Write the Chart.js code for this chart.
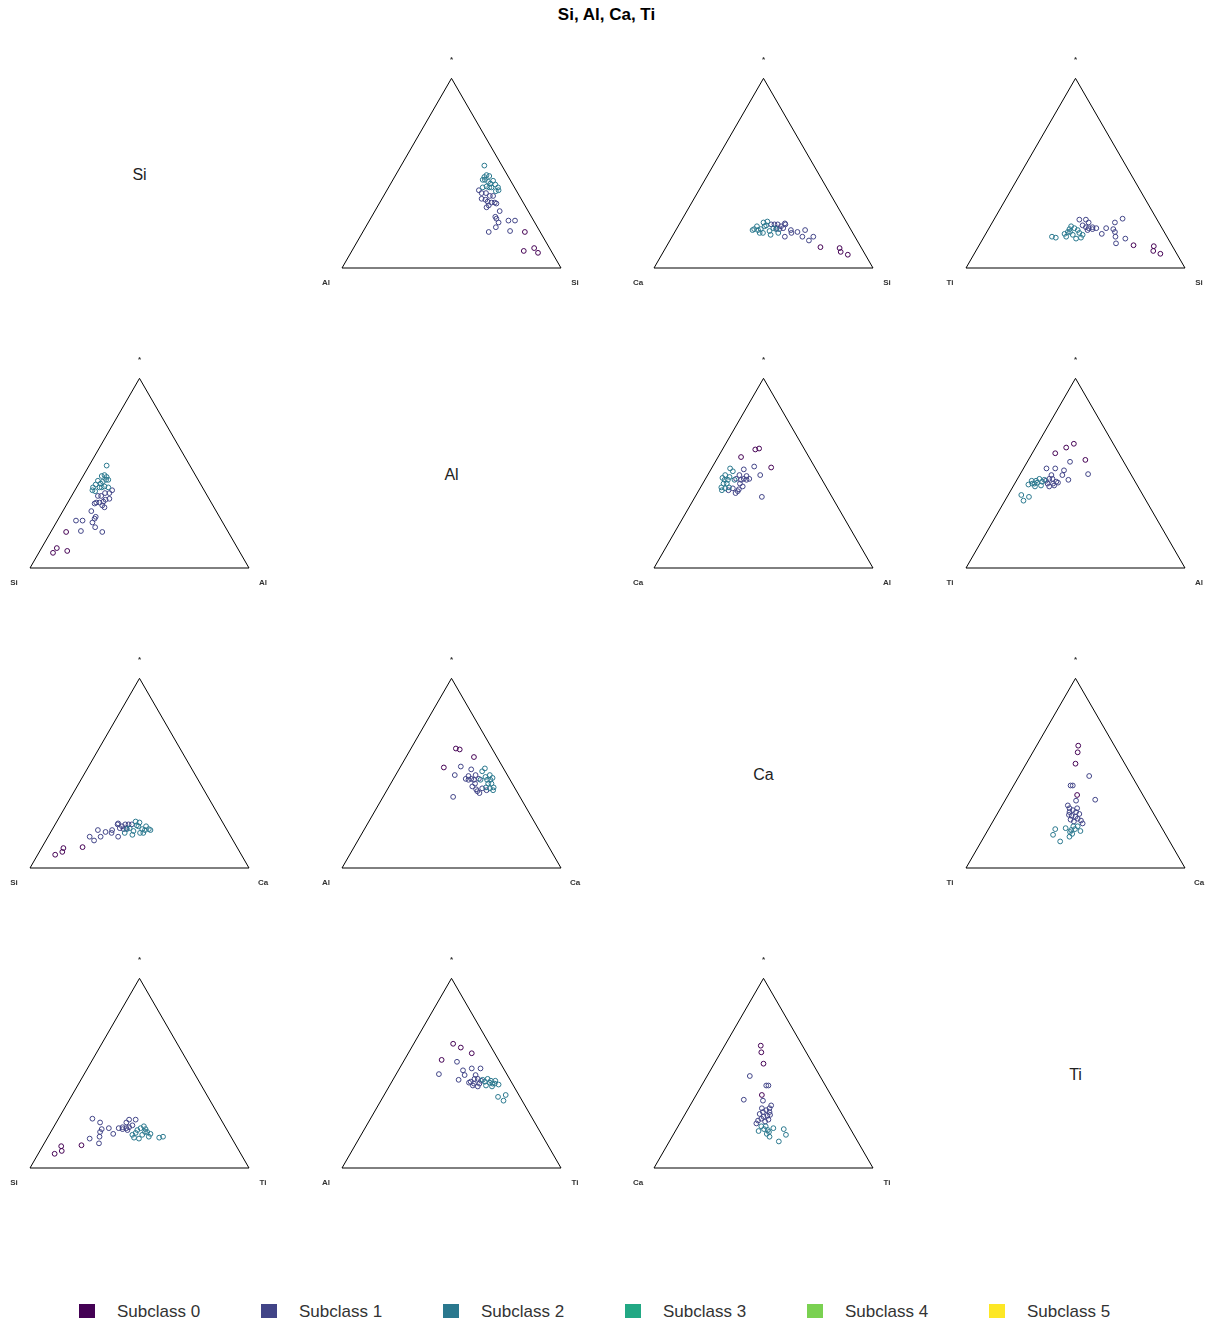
<!DOCTYPE html>
<html>
<head>
<meta charset="utf-8">
<script src="https://cdn.jsdelivr.net/npm/chart.js@4.4.1/dist/chart.umd.min.js"></script>
<style>
  html, body { margin: 0; padding: 0; background: #fff; overflow: hidden; }
  body { width: 1213px; height: 1327px; position: relative; font-family: "Liberation Sans", Arial, sans-serif; }
  #title { position: absolute; top: 5px; left: 0; width: 1213px; text-align: center; font-weight: bold; font-size: 17px; color: #000; }
  canvas.cell { position: absolute; }
  .diag { position: absolute; font-size: 16px; color: #222; transform: translate(-50%, -50%); }
  .lg-box { position: absolute; width: 16px; height: 14px; top: 1304px; }
  .lg-text { position: absolute; top: 1302px; font-size: 17px; color: #333; }
</style>
</head>
<body>
<div id="title">Si, Al, Ca, Ti</div>
<script>
{
    const elements = ['Si', 'Al', 'Ca', 'Ti'];
    const subclasses = ['Subclass 0', 'Subclass 1', 'Subclass 2', 'Subclass 3', 'Subclass 4', 'Subclass 5'];
    const subclassColors = ['#440154', '#414487', '#2A788E', '#22A884', '#7AD151', '#FDE725'];

    // [first %, second %, subclass] - the rest (*) is 100 - first - second
    const siAl = [
        [38,8,2],[41,11,2],[41.5,9.5,2],[43,8.5,2],[41,12.5,2],[42,11.5,2],[44,10.5,2],[45.5,10,2],[46,8,2],
        [48,8,2],[50,7.5,2],[50,9.5,2],[51,8,2],[44.5,12.5,2],[46,11.5,2],[47,10.5,2],[43,14.5,2],
        [42,17,1],[44,16.5,1],[46,14.5,1],[48.5,13.5,1],[50,12,1],[45.5,18,1],[47.5,16.5,1],[49,16,1],
        [51,14.5,1],[52.5,13,1],[50,18,1],[50.5,16.5,1],[53.5,12.5,1],[57,13,1],[56.5,16.5,1],[57.5,16.5,1],
        [59.5,16.5,1],[63.5,11.5,1],[66.5,8.5,1],[59.5,19,1],[57.5,23.5,1],[67,13.5,1],
        [74,7,0],[78.5,12.5,0],[82.5,7,0],[85.5,6.5,0]
    ];
    const siCa = [
        [35.5,44,2],[37.5,42.5,2],[38.5,41,2],[39.5,38.5,2],[39.5,36,2],[40,37.5,2],[39,42.5,2],[40.5,41,2],
        [43,37.5,2],[44.5,38,2],[44,35,2],[45.5,34,2],[47.5,34,2],[35,45,2],[38,38,2],[36,42,2],
        [42,35,1],[43.5,33.5,1],[45,32,1],[47,31,1],[48,28.5,1],[45.5,33.5,1],[47,32.5,1],[48.5,30.5,1],
        [48.5,28.5,1],[52.5,27.5,1],[56,25,1],[59,21,1],[53.5,28,1],[51.5,32,1],[59.5,24,1],[63.5,22,1],[64.5,19,1],
        [70.5,18.5,0],[79.5,10,0],[81,10.5,0],[85,8,0]
    ];
    const siTi = [
        [31,52.5,2],[33,51,2],[36,46,2],[37,44,2],[37,42.5,2],[37,41,2],[39,40,2],[41,39,2],[42.5,39,2],
        [40,42.5,2],[42.5,42,2],[44.5,39.5,2],[44.5,38,2],[37.5,46,2],[38,43,2],
        [39,35.5,1],[42,32.5,1],[42,35.5,1],[44,34.5,1],[45.5,33.5,1],[47,31.5,1],[44,32,1],[47.5,32,1],
        [45.5,34.5,1],[49,30,1],[53,29,1],[53.5,25.5,1],[57,22.5,1],[58.5,22.5,1],[60,23.5,1],[62,25,1],
        [65,19.5,1],[58.5,15.5,1],[56,20,1],
        [70.5,17.5,0],[80,8.5,0],[81,10,0],[85,7.5,0]
    ];
    const alCa = [
        [7.5,45,2],[8,43,2],[10.5,48.5,2],[9.5,48,2],[9,44.5,2],[10.5,43,2],[11,44.5,2],[8.5,39,2],
        [10.5,38.5,2],[10.5,41.5,2],[13,44.5,2],[9.5,46,2],[13.5,40,2],[11.5,46.5,2],
        [14,39,1],[14.5,36.5,1],[16.5,37,1],[17,38.5,1],[17.5,35.5,1],[19,34.5,1],[20,33,1],[18,33.5,1],
        [15,33,1],[19,27.5,1],[24,27,1],[18,41.5,1],[17.5,43,1],[18,40.5,1],[13.5,45.5,1],[15,43,1],
        [30.5,32,1],[19,38,1],
        [10.5,31,0],[15,22.5,0],[16.5,20.5,0],[27,20,0]
    ];
    const alTi = [
        [6,55.5,2],[8.5,56,2],[10,52.5,2],[6.5,49.5,2],[7,47,2],[9,46.5,2],[9,45,2],[10,47,2],[10,43,2],
        [12,42.5,2],[12.5,41,2],[12.5,44,2],[8,47.5,2],[10,45,2],
        [10.5,37,1],[14.5,33,1],[13.5,40.5,1],[15,40.5,1],[14.5,38.5,1],[14.5,36.5,1],[16,37,1],[18.5,38,1],
        [18.5,36,1],[17.5,38,1],[16.5,40.5,1],[19.5,31.5,1],[19,29.5,1],[23.5,30,1],[19.5,24.5,1],[31,19.5,1],
        [19.5,35.5,1],
        [10.5,29,0],[14,22.5,0],[16.5,18,0],[26,17,0]
    ];
    const caTi = [
        [19,16.5,0],[20.5,18.5,0],[22.5,22.5,0],[31.5,30,0],
        [32,19.5,1],[26,30.5,1],[27,29.5,1],[41,23,1],[32.5,32,1],[30,37,1],[31.5,37,1],[33.5,36,1],
        [35.5,35,1],[37.5,34,1],[33,39,1],[34.5,38,1],[36.5,36.5,1],[38,36,1],[40,35,1],[41.5,35,1],
        [37,38.5,1],[35,39.5,1],[35,33.5,1],[32.5,38,1],
        [30.5,49,2],[31,51.5,2],[36,50,2],[35,44,2],[38,43,2],[38,42,2],[38,40,2],[40,38,2],
        [42.5,38,2],[39,44.5,2],[39.5,42.5,2],[39.5,40,2]
    ];
    const PAIRS = { 'Si-Al': siAl, 'Si-Ca': siCa, 'Si-Ti': siTi, 'Al-Ca': alCa, 'Al-Ti': alTi, 'Ca-Ti': caTi };

    const SQ = Math.sqrt(3) / 2;
    const CELL_W = 312, CELL_H = 300, CANVAS_W = 276, TOP = 40;
    const SIDE = 219;          // px per triangle side
    const LEFT_PAD = 30, BASE = 228;

    // right vertex = row element, left vertex = column element, top = rest
    const cellPoints = (rowEl, colEl) => {
        let data = PAIRS[rowEl + '-' + colEl], swap = false;
        if (!data) { data = PAIRS[colEl + '-' + rowEl]; swap = true; }
        return data.map(([a, b, k]) => {
            const right = swap ? b : a, left = swap ? a : b, top = 100 - right - left;
            return { x: (right + top / 2) / 100, y: top * SQ / 100, k };
        });
    };

    const cornerLabels = {
        id: 'cornerLabels',
        afterDatasetsDraw(chart, args, opts) {
            const { ctx, scales: { x, y } } = chart;
            ctx.save();
            ctx.fillStyle = '#333';
            ctx.font = 'bold 8px "Liberation Sans", Arial, sans-serif';
            ctx.textAlign = 'center';
            ctx.textBaseline = 'middle';
            ctx.fillText(opts.left, x.getPixelForValue(0) - 16, y.getPixelForValue(0) + 15);
            ctx.fillText(opts.right, x.getPixelForValue(1) + 14, y.getPixelForValue(0) + 15);
            ctx.fillText('*', x.getPixelForValue(0.5), y.getPixelForValue(SQ) - 19);
            ctx.restore();
        }
    };

    elements.forEach((rowEl, r) => {
        elements.forEach((colEl, c) => {
            if (r === c) {
                const d = document.createElement('div');
                d.className = 'diag';
                d.textContent = rowEl;
                d.style.left = (LEFT_PAD + SIDE / 2 + CELL_W * c) + 'px';
                d.style.top = (TOP + 135 + CELL_H * r) + 'px';
                document.body.appendChild(d);
                return;
            }
            const canvas = document.createElement('canvas');
            canvas.className = 'cell';
            canvas.width = CANVAS_W;
            canvas.height = CELL_H;
            canvas.style.left = (CELL_W * c) + 'px';
            canvas.style.top = (TOP + CELL_H * r) + 'px';
            document.body.appendChild(canvas);

            const pts = cellPoints(rowEl, colEl);
            const datasets = [{
                data: [{ x: 0, y: 0 }, { x: 1, y: 0 }, { x: 0.5, y: SQ }, { x: 0, y: 0 }],
                showLine: true, borderColor: '#000', borderWidth: 1, pointRadius: 0, fill: false
            }];
            [2, 1, 0].forEach(k => {
                const data = pts.filter(p => p.k === k);
                if (!data.length) return;
                datasets.push({
                    label: subclasses[k], data,
                    pointRadius: 2.4, pointBorderWidth: 1,
                    borderColor: subclassColors[k], backgroundColor: 'rgba(0,0,0,0)'
                });
            });

            new Chart(canvas, {
                type: 'scatter',
                data: { datasets },
                options: {
                    responsive: false, animation: false, events: [],
                    layout: { padding: 0, autoPadding: false },
                    plugins: {
                        legend: { display: false }, tooltip: { enabled: false },
                        cornerLabels: { left: colEl, right: rowEl }
                    },
                    scales: {
                        x: { display: false, min: -LEFT_PAD / SIDE, max: (CANVAS_W - LEFT_PAD) / SIDE },
                        y: { display: false, min: -(CELL_H - BASE) / SIDE, max: BASE / SIDE }
                    }
                },
                plugins: [cornerLabels]
            });
        });
    });

    // legend
    subclasses.forEach((name, i) => {
        const box = document.createElement('div');
        box.className = 'lg-box';
        box.style.left = (79 + 182 * i) + 'px';
        box.style.background = subclassColors[i];
        const txt = document.createElement('div');
        txt.className = 'lg-text';
        txt.style.left = (117 + 182 * i) + 'px';
        txt.textContent = name;
        document.body.appendChild(box);
        document.body.appendChild(txt);
    });
}
</script>
</body>
</html>
